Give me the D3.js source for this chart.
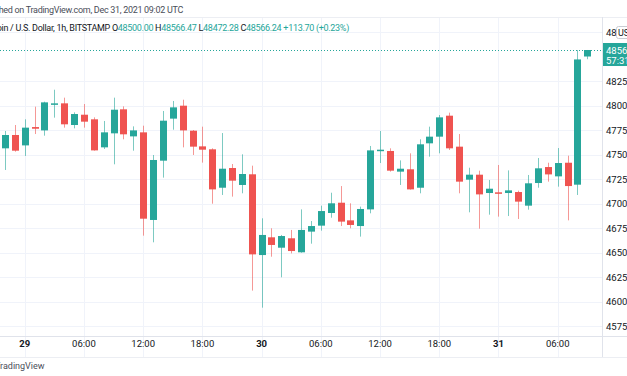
<!DOCTYPE html>
<html>
<head>
<meta charset="utf-8">
<script src="https://cdn.jsdelivr.net/npm/d3@7"></script>
<style>
  html, body { margin: 0; padding: 0; background: #fff; }
  #chart { width: 627px; height: 376px; }
  text { font-family: Roboto, "Liberation Sans", sans-serif; }
</style>
</head>
<body>
<div id="chart"></div>
<script>
// BTC/USD 1h candles, BITSTAMP, 28 Dec 22:00 -> 31 Dec 09:00 UTC
const startTime = "2021-12-28T22:00:00Z";
const opens = [47563, 47699, 47593, 47780, 47746, 48012, 48022, 47801, 47906, 47859,
  47573, 47716, 47961, 47685, 47726, 46832, 47437, 47866, 47998, 47743,
  47583, 47553, 47161, 47362, 47189, 47298, 46474, 46655, 46549, 46645,
  46502, 46713, 46774, 46903, 47008, 46828, 46770, 46940, 47539, 47536,
  47325, 47349, 47161, 47614, 47682, 47896, 47580, 47243, 47294, 47107,
  47114, 47107, 47117, 46978, 47209, 47372, 47277, 47416, 47192, 48500];
const highs = [47740, 47801, 47859, 47988, 48039, 48161, 48080, 47930, 48015, 47879,
  47842, 48080, 47991, 47787, 47794, 47495, 47944, 48046, 48059, 47750,
  47784, 47563, 47719, 47403, 47502, 47386, 46849, 46747, 46679, 46730,
  46940, 46821, 46978, 47110, 47178, 47002, 46968, 47587, 47740, 47563,
  47440, 47512, 47655, 47784, 47903, 47927, 47709, 47365, 47335, 47240,
  47393, 47338, 47131, 47291, 47464, 47416, 47566, 47488, 48566, 48566.47];
const lows = [47342, 47529, 47485, 47709, 47692, 47876, 47774, 47767, 47774, 47539,
  47556, 47400, 47655, 47539, 46672, 46604, 47264, 47753, 47573, 47495,
  47417, 46998, 47087, 47070, 47104, 46111, 45937, 46457, 46247, 46491,
  46498, 46590, 46723, 46855, 46770, 46747, 46662, 46900, 47413, 47325,
  47189, 47141, 47104, 47478, 47512, 47546, 47104, 46910, 46743, 46886,
  46866, 46872, 46842, 46937, 47161, 47223, 47172, 46828, 47087, 48472.28];
const closes = [47699, 47539, 47774, 47763, 48032, 48022, 47808, 47913, 47835, 47542,
  47726, 47957, 47706, 47746, 46845, 47444, 47845, 47981, 47746, 47580,
  47549, 47144, 47355, 47233, 47301, 46481, 46679, 46577, 46668, 46515,
  46730, 46770, 46923, 47002, 46815, 46781, 46944, 47542, 47549, 47335,
  47355, 47144, 47604, 47682, 47879, 47563, 47223, 47294, 47093, 47151,
  47104, 47134, 47019, 47206, 47359, 47297, 47413, 47178, 48470, 48566.24];
const priceTicks = [45750, 46000, 46250, 46500, 46750, 47000, 47250, 47500, 47750, 48000, 48250, 48750];
const timeTicks = ["2021-12-29T00:00:00Z", "2021-12-29T06:00:00Z", "2021-12-29T12:00:00Z", "2021-12-29T18:00:00Z",
  "2021-12-30T00:00:00Z", "2021-12-30T06:00:00Z", "2021-12-30T12:00:00Z", "2021-12-30T18:00:00Z",
  "2021-12-31T00:00:00Z", "2021-12-31T06:00:00Z"];
const lastPrice = 48566.24;
const countdown = "57:31";

const UP = "#26a69a", DOWN = "#ef5350", GRID = "#f0f3fa", TXT = "#131722";

const t0 = new Date(startTime);
const candles = opens.map((o, i) => ({
  t: d3.utcHour.offset(t0, i), o, h: highs[i], l: lows[i], c: closes[i]
}));

const W = 627, H = 376;
const paneTop = 17, paneRight = 602, axisTop = 336, axisBottom = 357;
const svg = d3.select('#chart').append('svg').attr('width', W).attr('height', H);

const x = d3.scaleUtc()
  .domain([candles[0].t, candles[candles.length - 1].t])
  .range([5, 5 + 59 * 9.87]);
const y = d3.scaleLinear().domain([45750, 48000]).range([326, 105.5]);

// grid
svg.append('g').selectAll('line').data(priceTicks).join('line')
  .attr('x1', 0).attr('x2', paneRight)
  .attr('y1', d => Math.round(y(d)) + 0.5).attr('y2', d => Math.round(y(d)) + 0.5)
  .attr('stroke', GRID);
svg.append('g').selectAll('line').data(timeTicks).join('line')
  .attr('x1', d => Math.round(x(new Date(d))) + 0.5).attr('x2', d => Math.round(x(new Date(d))) + 0.5)
  .attr('y1', paneTop).attr('y2', axisBottom)
  .attr('stroke', GRID);

// pane borders
svg.append('line').attr('x1', 0).attr('x2', W).attr('y1', paneTop + 0.5).attr('y2', paneTop + 0.5).attr('stroke', '#eceef3');
svg.append('line').attr('x1', 0).attr('x2', W).attr('y1', axisTop + 0.5).attr('y2', axisTop + 0.5).attr('stroke', '#e0e3eb');
svg.append('line').attr('x1', 0).attr('x2', W).attr('y1', axisBottom + 0.5).attr('y2', axisBottom + 0.5).attr('stroke', '#eceef3');
svg.append('line').attr('x1', paneRight + 0.5).attr('x2', paneRight + 0.5).attr('y1', paneTop).attr('y2', axisBottom).attr('stroke', '#e0e3eb');

// last price dotted line
svg.append('line')
  .attr('x1', 0).attr('x2', paneRight)
  .attr('y1', Math.round(y(lastPrice)) + 0.5).attr('y2', Math.round(y(lastPrice)) + 0.5)
  .attr('stroke', UP).attr('stroke-dasharray', '1,2');

// candles
const bw = 7;
const g = svg.append('g');
g.selectAll('line.wick').data(candles).join('line')
  .attr('class', 'wick')
  .attr('x1', d => Math.round(x(d.t)) + 0.5).attr('x2', d => Math.round(x(d.t)) + 0.5)
  .attr('y1', d => y(d.h)).attr('y2', d => y(d.l))
  .attr('stroke', d => d.c >= d.o ? UP : DOWN)
  .attr('stroke-opacity', 0.6);
g.selectAll('rect').data(candles).join('rect')
  .attr('x', d => Math.round(x(d.t)) + 0.5 - bw / 2)
  .attr('y', d => y(Math.max(d.o, d.c)))
  .attr('width', bw)
  .attr('height', d => Math.max(1.5, Math.abs(y(d.o) - y(d.c))))
  .attr('fill', d => d.c >= d.o ? UP : DOWN);

// price axis labels
svg.append('g').selectAll('text').data(priceTicks).join('text')
  .attr('x', 606).attr('y', d => y(d) + 3.5)
  .attr('font-size', 9.5).attr('fill', TXT)
  .text(d => d);

// currency badge
svg.append('rect').attr('x', 616.5).attr('y', 26.5).attr('width', 14).attr('height', 12)
  .attr('fill', '#fff').attr('stroke', '#c9ccd3').attr('rx', 2);
svg.append('text').attr('x', 618).attr('y', 35.5).attr('font-size', 9).attr('fill', TXT).text('USD');

// last price label
svg.append('rect').attr('x', paneRight + 1).attr('y', y(lastPrice) - 7).attr('width', 26).attr('height', 23)
  .attr('fill', UP);
svg.append('text').attr('x', 606).attr('y', y(lastPrice) + 3.5)
  .attr('font-size', 9.5).attr('fill', '#fff').text(Math.floor(lastPrice));
svg.append('text').attr('x', 606).attr('y', y(lastPrice) + 13.5)
  .attr('font-size', 9.5).attr('fill', '#fff').text(countdown);

// time axis labels
const fmt = d => d.getUTCHours() === 0 ? d3.utcFormat('%-d')(d) : d3.utcFormat('%H:%M')(d);
svg.append('g').selectAll('text').data(timeTicks).join('text')
  .attr('x', d => x(new Date(d))).attr('y', 347)
  .attr('text-anchor', 'middle').attr('font-size', 9.5).attr('fill', TXT)
  .attr('font-weight', d => new Date(d).getUTCHours() === 0 ? 700 : 400)
  .text(d => fmt(new Date(d)));

// header texts (left part runs off the canvas, like the reference)
svg.append('text').attr('x', 183).attr('y', 13).attr('text-anchor', 'end')
  .attr('font-size', 9).attr('letter-spacing', -0.3).attr('fill', '#4a4e59')
  .text('Published on TradingView.com, Dec 31, 2021 09:02 UTC');

const legend = svg.append('text').attr('x', 349).attr('y', 31).attr('text-anchor', 'end')
  .attr('font-size', 9).attr('letter-spacing', -0.3).attr('fill', TXT);
legend.append('tspan').text('Bitcoin / U.S. Dollar, 1h, BITSTAMP ');
const ohlc = [['O', opens[59].toFixed(2)], ['H', highs[59].toFixed(2)], ['L', lows[59].toFixed(2)], ['C', closes[59].toFixed(2)]];
ohlc.forEach(([k, v]) => {
  legend.append('tspan').attr('fill', TXT).text(' ' + k);
  legend.append('tspan').attr('fill', UP).text(v);
});
legend.append('tspan').attr('fill', UP).text(' +113.70 (+0.23%)');

svg.append('text').attr('x', -5).attr('y', 369).attr('font-size', 9).attr('fill', '#4a4e59')
  .text('TradingView');
</script>
</body>
</html>
